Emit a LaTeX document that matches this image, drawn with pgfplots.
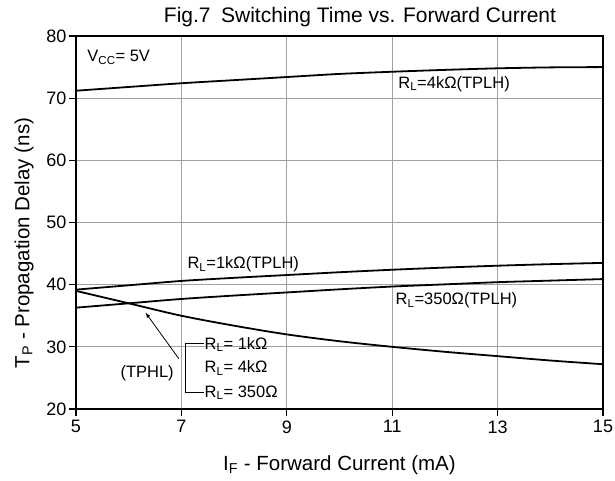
\documentclass[border=0pt]{standalone}
\usepackage{fontspec}
\setmainfont{Liberation Sans}
\usepackage{pgfplots}
\pgfplotsset{compat=1.18}
\definecolor{gridgray}{RGB}{160,160,160}
\newcommand{\fs}[1]{\fontsize{#1bp}{#1bp}\selectfont}
\begin{document}
\begin{tikzpicture}
\begin{axis}[
  at={(0,0)}, anchor=south west,
  scale only axis, width=527bp, height=373bp,
  xmin=5, xmax=15, ymin=20, ymax=80,
  xtick={5,7,9,11,13,15}, ytick={20,30,40,50,60,70,80},
  xtick pos=left, ytick pos=left,
  tick align=outside, major tick length=7bp,
  grid=major,
  major grid style={gridgray, line width=0.9bp},
  axis line style={black, line width=1.4bp},
  tick style={black, line width=1.2bp},
  /pgf/number format/assume math mode=true,
  ticklabel style={font=\fs{18}},
  yticklabel style={xshift=1bp},
  xticklabel style={yshift=-1bp},
  clip=false,
]
\addplot[black, line width=1.8bp, smooth] coordinates {
(5,71.2) (6,71.8) (7,72.4) (8,72.9) (9,73.4) (10,73.9) (11,74.25) (12,74.55) (13,74.8) (14,74.95) (15,75.0)};
\addplot[black, line width=1.8bp, smooth] coordinates {
(5,39.2) (6,39.9) (7,40.6) (8,41.1) (9,41.55) (10,42.0) (11,42.4) (12,42.75) (13,43.05) (14,43.3) (15,43.5)};
\addplot[black, line width=1.8bp, smooth] coordinates {
(5,36.3) (6,37.0) (7,37.7) (8,38.25) (9,38.75) (10,39.25) (11,39.7) (12,40.05) (13,40.4) (14,40.65) (15,40.9)};
\addplot[black, line width=1.8bp, smooth] coordinates {
(5,39.0) (6,37.0) (7,35.0) (8,33.4) (9,32.0) (10,30.9) (11,30.0) (12,29.2) (13,28.5) (14,27.8) (15,27.2)};
\node[anchor=west, font=\fs{16.5}] at (axis cs:5.15,76.6) {V\textsubscript{CC}= 5V};
\node[anchor=west, font=\fs{16.5}] at (axis cs:11.05,72.3) {R\textsubscript{L}=4kΩ(TPLH)};
\node[anchor=west, font=\fs{16.5}] at (axis cs:7.05,43.3) {R\textsubscript{L}=1kΩ(TPLH)};
\node[anchor=west, font=\fs{16.5}] at (axis cs:11.0,37.5) {R\textsubscript{L}=350Ω(TPLH)};
\node[font=\fs{16.5}] at (axis cs:6.35,25.8) {(TPHL)};
\draw[black, line width=0.8bp, -{latex}] (axis cs:6.95,28.1) -- (axis cs:6.32,35.5);
\draw[black, line width=0.8bp] (axis cs:7.42,30.5) -- (axis cs:7.07,30.5) -- (axis cs:7.07,22.6) -- (axis cs:7.42,22.6);
\node[anchor=west, font=\fs{16.5}, inner sep=1bp] at (axis cs:7.42,30.4) {R\textsubscript{L}= 1kΩ};
\node[anchor=west, font=\fs{16.5}, inner sep=1bp] at (axis cs:7.42,26.6) {R\textsubscript{L}= 4kΩ};
\node[anchor=west, font=\fs{16.5}, inner sep=1bp] at (axis cs:7.42,22.6) {R\textsubscript{L}= 350Ω};
\end{axis}
\node[font=\fs{21}, anchor=base] at (284bp,386bp) {Fig.7\enspace Switching Time vs. Forward Current};
\node[font=\fs{20.5}] at (263.5bp,-56bp) {I\textsubscript{F} - Forward Current (mA)};
\node[font=\fs{20.5}, rotate=90] at (-52bp,166bp) {T\textsubscript{P} - Propagation Delay (ns)};
\pgfresetboundingbox
\path[use as bounding box] (-76bp,-72bp) rectangle (539bp,409bp);
\end{tikzpicture}
\end{document}
